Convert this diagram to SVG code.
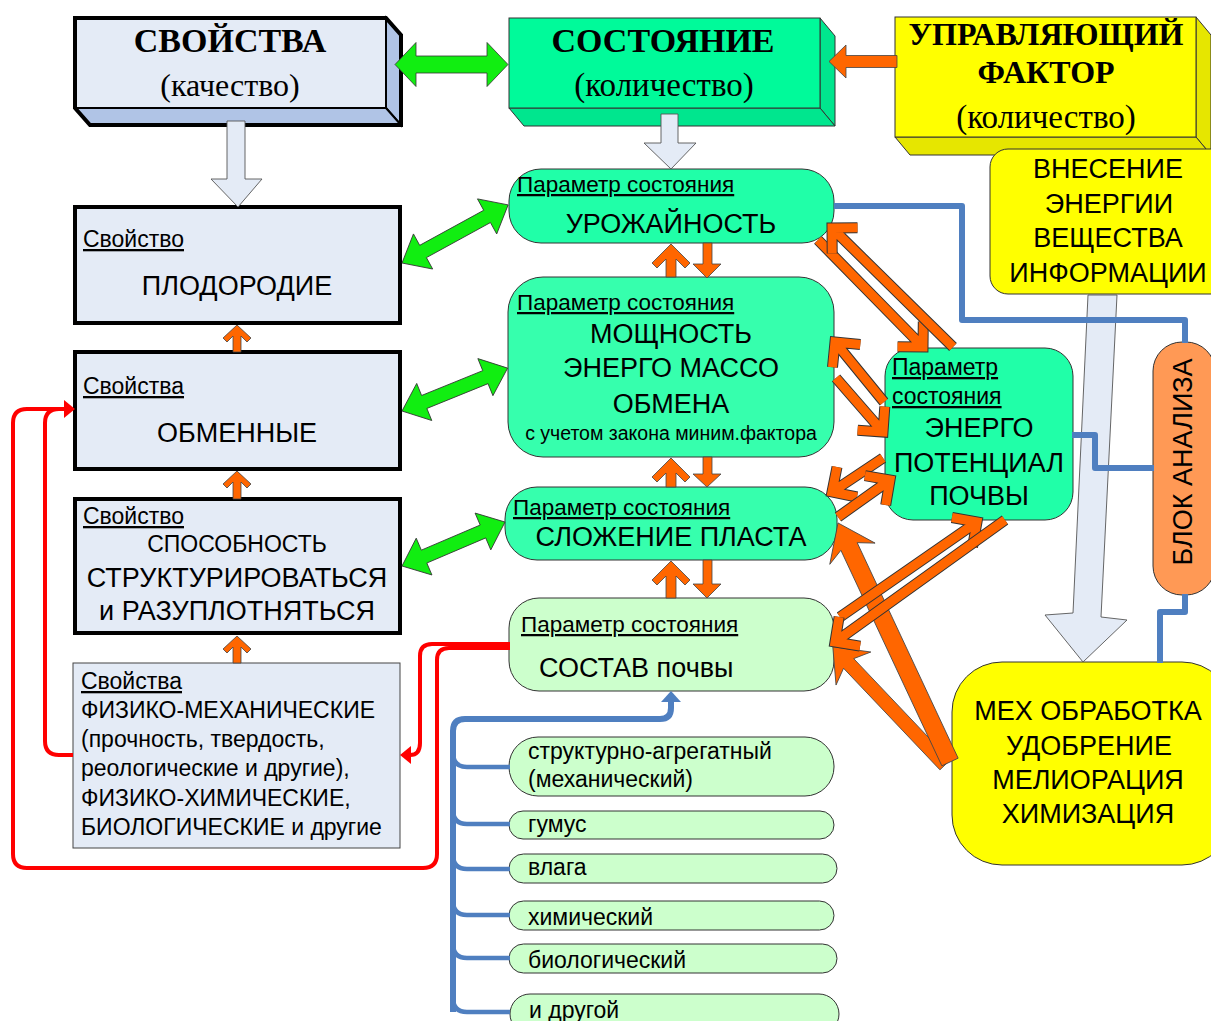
<svg xmlns="http://www.w3.org/2000/svg" width="1211" height="1021" viewBox="0 0 1211 1021">
<style>
.t{font-family:"Liberation Sans",Arial,sans-serif;fill:#000}
.s{font-family:"Liberation Serif","Times New Roman",serif;fill:#000}
.b{font-weight:bold}
.c{text-anchor:middle}
.u{text-decoration:underline}
.f27{font-size:27px}
.f22{font-size:22.5px}
.f23{font-size:23px}
.lbox{fill:#e4ebf6;stroke:#000;stroke-width:4}
.mbox{fill:#20ffa8;stroke:#333;stroke-width:1}
.mbox2{fill:#36ffad;stroke:#333;stroke-width:1}
.lgbox{fill:#ccffcc;stroke:#333;stroke-width:1}
.ybox{fill:#ffff00;stroke:#333;stroke-width:1}
.ga{fill:#11ee11;stroke:#333;stroke-width:0.8}
.oa{fill:#ff6600;stroke:#444;stroke-width:0.8}
.la{fill:#e4ebf6;stroke:#555;stroke-width:0.9}
.hk{fill:none;stroke:#333;stroke-width:11;stroke-linejoin:miter}
.ho{fill:none;stroke:#ff6600;stroke-width:9;stroke-linejoin:miter}
.bl{fill:none;stroke:#4f7fc0;stroke-width:6;stroke-linejoin:round}
.bl4{fill:none;stroke:#4f7fc0;stroke-width:4.5}
.rd{fill:none;stroke:#ff0000;stroke-width:4}
</style>

<g id="node-svoistva">
<polygon points="386,18 401,35 401,125 386,108" fill="#b0c4e6" stroke="#000" stroke-width="2"/>
<polygon points="75,108 386,108 401,125 90,125" fill="#b0c4e6" stroke="#000" stroke-width="2"/>
<rect x="75" y="18" width="311" height="90" fill="#e4ebf6" stroke="#000" stroke-width="2"/>
<polygon points="75,18 386,18 401,35 401,125 90,125 75,108" fill="none" stroke="#000" stroke-width="4"/>
<text class="s b c" x="230" y="52" font-size="34">СВОЙСТВА</text>
<text class="s c" x="230" y="96" font-size="32">(качество)</text>
</g>

<g id="node-sostoyanie">
<polygon points="820,18 835,36 835,126 820,108" fill="#00e68e" stroke="#333" stroke-width="1"/>
<polygon points="509,108 820,108 835,126 524,126" fill="#00e68e" stroke="#333" stroke-width="1"/>
<rect x="509" y="18" width="311" height="90" fill="#00fa9a" stroke="#333" stroke-width="1"/>
<text class="s b c" x="663" y="52" font-size="34">СОСТОЯНИЕ</text>
<text class="s c" x="664" y="96" font-size="33">(количество)</text>
</g>

<g id="node-upravl">
<polygon points="1196,17 1211,35 1211,155 1196,137" fill="#e6e600" stroke="#333" stroke-width="1"/>
<polygon points="895,137 1196,137 1211,155 910,155" fill="#e6e600" stroke="#333" stroke-width="1"/>
<rect x="895" y="17" width="301" height="120" fill="#ffff00" stroke="#333" stroke-width="1"/>
<text class="s b c" x="1046" y="45" font-size="32">УПРАВЛЯЮЩИЙ</text>
<text class="s b c" x="1046" y="83" font-size="32">ФАКТОР</text>
<text class="s c" x="1046" y="128" font-size="33">(количество)</text>
</g>

<g id="node-vnesenie">
<rect x="990" y="149" width="240" height="145" rx="18" class="ybox"/>
<text class="t c f27" x="1108" y="178">ВНЕСЕНИЕ</text>
<text class="t c f27" x="1109" y="213">ЭНЕРГИИ</text>
<text class="t c f27" x="1108" y="247">ВЕЩЕСТВА</text>
<text class="t c f27" x="1108" y="282">ИНФОРМАЦИИ</text>
</g>

<g id="node-plodorodie">
<rect x="75" y="207" width="325" height="116" class="lbox"/>
<text class="t u f23" x="83" y="247">Свойство</text>
<text class="t c f27" x="237" y="295">ПЛОДОРОДИЕ</text>
</g>

<g id="node-obmennye">
<rect x="75" y="352" width="325" height="117" class="lbox"/>
<text class="t u f23" x="83" y="394">Свойства</text>
<text class="t c f27" x="237" y="442">ОБМЕННЫЕ</text>
</g>

<g id="node-sposobnost">
<rect x="75" y="499" width="325" height="134" class="lbox"/>
<text class="t u f23" x="83" y="524">Свойство</text>
<text class="t c" x="237" y="552" font-size="23">СПОСОБНОСТЬ</text>
<text class="t c f27" x="237" y="587">СТРУКТУРИРОВАТЬСЯ</text>
<text class="t c f27" x="237" y="620">и РАЗУПЛОТНЯТЬСЯ</text>
</g>

<g id="node-fiziko">
<rect x="73" y="663" width="327" height="185" fill="#e4ebf6" stroke="#444" stroke-width="1"/>
<text class="t u f23" x="81" y="689">Свойства</text>
<text class="t f23" x="81" y="718">ФИЗИКО-МЕХАНИЧЕСКИЕ</text>
<text class="t f23" x="81" y="747">(прочность, твердость,</text>
<text class="t f23" x="81" y="776">реологические и другие),</text>
<text class="t f23" x="81" y="806">ФИЗИКО-ХИМИЧЕСКИЕ,</text>
<text class="t f23" x="81" y="835">БИОЛОГИЧЕСКИЕ и другие</text>
</g>

<g id="node-urozhainost">
<rect x="509" y="169" width="325" height="74" rx="32" class="mbox"/>
<text class="t u f22" x="517" y="192">Параметр состояния</text>
<text class="t c f27" x="671" y="233">УРОЖАЙНОСТЬ</text>
</g>

<g id="node-moshchnost">
<rect x="508" y="277" width="326" height="180" rx="35" class="mbox2"/>
<text class="t u f22" x="517" y="310">Параметр состояния</text>
<text class="t c f27" x="671" y="343">МОЩНОСТЬ</text>
<text class="t c f27" x="671" y="377">ЭНЕРГО МАССО</text>
<text class="t c f27" x="671" y="413">ОБМЕНА</text>
<text class="t c" x="671" y="440" font-size="19.5">с учетом закона миним.фактора</text>
</g>

<g id="node-slozhenie">
<rect x="505" y="487" width="332" height="73" rx="32" class="mbox2"/>
<text class="t u f22" x="513" y="515">Параметр состояния</text>
<text class="t c f27" x="671" y="546">СЛОЖЕНИЕ ПЛАСТА</text>
</g>

<g id="node-sostav">
<rect x="509" y="598" width="325" height="93" rx="30" class="lgbox"/>
<text class="t u f22" x="521" y="632">Параметр состояния</text>
<text class="t f27" x="539" y="677">СОСТАВ почвы</text>
</g>

<g id="node-energo">
<rect x="885" y="348" width="188" height="172" rx="28" class="mbox"/>
<text class="t u f23" x="892" y="375">Параметр</text>
<text class="t u f23" x="892" y="404">состояния</text>
<text class="t c f27" x="979" y="437">ЭНЕРГО</text>
<text class="t c f27" x="979" y="472">ПОТЕНЦИАЛ</text>
<text class="t c f27" x="979" y="505">ПОЧВЫ</text>
</g>

<g id="node-blok">
<rect x="1153" y="342" width="62" height="253" rx="29" fill="#ff9955" stroke="#333" stroke-width="1"/>
<text class="t c f27" transform="translate(1192,462) rotate(-90)">БЛОК АНАЛИЗА</text>
</g>

<g id="node-meh">
<rect x="952" y="662" width="280" height="203" rx="50" class="ybox"/>
<text class="t c f27" x="1088" y="720">МЕХ ОБРАБОТКА</text>
<text class="t c f27" x="1089" y="755">УДОБРЕНИЕ</text>
<text class="t c f27" x="1088" y="789">МЕЛИОРАЦИЯ</text>
<text class="t c f27" x="1088" y="823">ХИМИЗАЦИЯ</text>
</g>

<g id="node-list">
<rect x="509" y="737" width="325" height="59" rx="29" class="lgbox"/>
<text class="t f23" x="528" y="759">структурно-агрегатный</text>
<text class="t f23" x="528" y="787">(механический)</text>
<rect x="509" y="811" width="325" height="28" rx="14" class="lgbox"/>
<text class="t f23" x="528" y="832">гумус</text>
<rect x="509" y="854" width="328" height="29" rx="14.5" class="lgbox"/>
<text class="t f23" x="528" y="875">влага</text>
<rect x="509" y="901" width="325" height="29" rx="14.5" class="lgbox"/>
<text class="t f23" x="528" y="925">химический</text>
<rect x="509" y="944" width="328" height="29" rx="14.5" class="lgbox"/>
<text class="t f23" x="528" y="968">биологический</text>
<rect x="510" y="994" width="329" height="40" rx="20" class="lgbox"/>
<text class="t f23" x="529" y="1018">и другой</text>
</g>

<g id="connectors">
<polygon class="la" points="227,121 245,121 245,179 262,179 238,207 211,179 227,179"/>
<polygon class="la" points="661,114 678,114 678,143 696,143 671,169 644,143 661,143"/>
<polygon class="la" points="1088,295 1117,295 1101,617 1127,620 1083,662 1045,615 1073,613"/>

<polygon class="oa" points="897,55.5 846,55.5 846,45 829,61.5 846,78 846,67.5 897,67.5"/>

<polygon class="ga" transform="translate(395,64.5)" points="0,0 21,-22 21,-8.5 92,-8.5 92,-22 113,0 92,22 92,8.5 21,8.5 21,22"/>
<polygon class="ga" transform="translate(402,263) rotate(-28.7)" points="0,0 24,-20 24,-7 97,-7 97,-20 121,0 97,20 97,7 24,7 24,20"/>
<polygon class="ga" transform="translate(402,411) rotate(-22.1)" points="0,0 24,-20 24,-7 90,-7 90,-20 114,0 90,20 90,7 24,7 24,20"/>
<polygon class="ga" transform="translate(402,566) rotate(-23.1)" points="0,0 24,-20 24,-7 88,-7 88,-20 112,0 88,20 88,7 24,7 24,20"/>

<polygon class="oa" transform="translate(237,325)" points="0,0 14,13 10,17 4,11 4,27 -4,27 -4,11 -10,17 -14,13"/>
<polygon class="oa" transform="translate(237,471)" points="0,0 14,13 10,17 4,11 4,28 -4,28 -4,11 -10,17 -14,13"/>
<polygon class="oa" transform="translate(237,636)" points="0,0 14,13 10,17 4,11 4,27 -4,27 -4,11 -10,17 -14,13"/>

<polygon class="oa" transform="translate(671,244)" points="0,0 19,19 14,24 5,15 5,33 -5,33 -5,15 -14,24 -19,19"/>
<polygon class="oa" points="703,243 712,243 712,264 721,264 707,278 693,264 703,264"/>
<polygon class="oa" transform="translate(671,458)" points="0,0 19,19 14,24 5,15 5,29 -5,29 -5,15 -14,24 -19,19"/>
<polygon class="oa" points="703,457 712,457 712,474 721,474 707,487 693,474 703,474"/>
<polygon class="oa" transform="translate(671,561)" points="0,0 19,19 14,24 5,15 5,37 -5,37 -5,15 -14,24 -19,19"/>
<polygon class="oa" points="703,560 712,560 712,584 721,584 707,598 693,584 703,584"/>

<polygon class="oa" transform="translate(945,765) rotate(-133.5)" points="0,-7 140,-7 133,-24 163,0 133,24 140,7 0,7"/>
<polygon class="oa" transform="translate(950,762) rotate(-115.1)" points="0,-9 238,-9 230,-25 264,0 230,25 238,9 0,9"/>

<path class="hk" d="M818,240 L923,347 M897.6,346.8 L923,347 L923.3,321.6"/>
<path class="ho" d="M818,240 L923,347 M897.6,346.8 L923,347 L923.3,321.6"/>
<path class="hk" d="M953,347 L832,228 M857.5,227.8 L832,228 L832.2,253.5"/>
<path class="ho" d="M953,347 L832,228 M857.5,227.8 L832,228 L832.2,253.5"/>
<path class="hk" d="M884,402 L835,342 M860.3,344.5 L835,342 L832.5,367.3"/>
<path class="ho" d="M884,402 L835,342 M860.3,344.5 L835,342 L832.5,367.3"/>
<path class="hk" d="M836,378 L883,432 M857.6,430.2 L883,432 L884.8,406.6"/>
<path class="ho" d="M836,378 L883,432 M857.6,430.2 L883,432 L884.8,406.6"/>
<path class="hk" d="M883,458 L832,492 M837,467 L832,492 L857,497"/>
<path class="ho" d="M883,458 L832,492 M837,467 L832,492 L857,497"/>
<path class="hk" d="M838,517 L890,480 M885.7,505.1 L890,480 L864.9,475.7"/>
<path class="ho" d="M838,517 L890,480 M885.7,505.1 L890,480 L864.9,475.7"/>
<path class="hk" d="M840,617 L977,522 M972.5,547.1 L977,522 L951.9,517.5"/>
<path class="ho" d="M840,617 L977,522 M972.5,547.1 L977,522 L951.9,517.5"/>
<path class="hk" d="M1005,520 L835,642 M839.1,616.9 L835,642 L860.1,646.1"/>
<path class="ho" d="M1005,520 L835,642 M839.1,616.9 L835,642 L860.1,646.1"/>

<path class="bl" d="M834,206 H962 V320 H1185 V343"/>
<path class="bl" d="M1072,435 H1095 V468 H1154"/>
<path class="bl" d="M1185,594 V612 H1160 V663"/>

<path class="bl" d="M453,1012 V731 Q453,719 465,719 H660 Q671,719 671,708 V700"/>
<polygon points="661,702 671,691 681,702" fill="#4f7fc0"/>
<path class="bl4" d="M453,753 Q453,767 467,767 H510"/>
<path class="bl4" d="M453,810 Q453,824 467,824 H510"/>
<path class="bl4" d="M453,855 Q453,869 467,869 H510"/>
<path class="bl4" d="M453,901 Q453,915 467,915 H510"/>
<path class="bl4" d="M453,944 Q453,958 467,958 H510"/>
<path class="bl4" d="M453,998 Q453,1012 467,1012 H510"/>

<path class="rd" d="M510,644 H432 Q420,644 420,656 V743 Q420,755 410,755"/>
<polygon points="400,755 411,746 411,764" fill="#ff0000"/>
<path class="rd" d="M510,648 H449 Q437,648 437,660 V854 Q437,868 423,868 H27 Q13,868 13,854 V423 Q13,409 27,409 H66"/>
<path class="rd" d="M73,755 H59 Q45,755 45,741 V423 Q45,409 59,409 H66"/>
<polygon points="75,409 64,400 64,418" fill="#ff0000"/>
</g>
</svg>
